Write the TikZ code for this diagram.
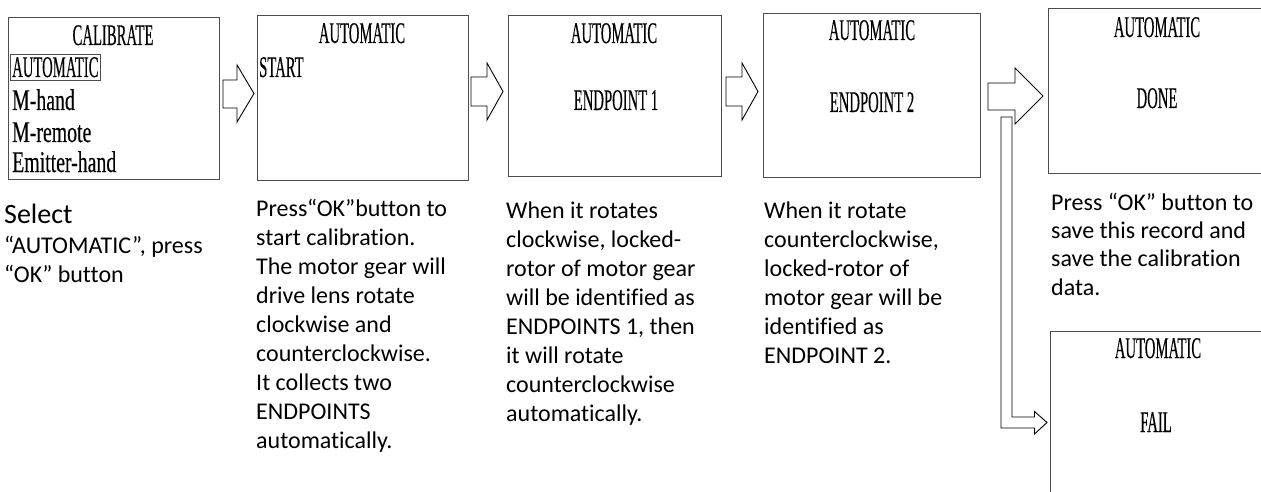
\documentclass[tikz,border=0pt]{standalone}
\usepackage{fontspec}
\setmainfont{Carlito}[Ligatures={NoCommon,NoContextual},RawFeature={-liga;-clig;-calt}]
\newfontfamily\scrcaps[FakeStretch=0.49,FakeBold=0.3]{Liberation Serif}
\newfontfamily\scrlow[FakeStretch=0.66,FakeBold=0.3]{Liberation Serif}
\newcommand\firstln{\rule{0pt}{18pt}}
\begin{document}
\begin{tikzpicture}[x=1pt,y=-1pt,
  screen/.style={draw=black!70,line width=0.8pt,inner sep=0pt,anchor=north west},
  scap/.style={inner sep=0pt,anchor=base,font=\scrcaps\fontsize{30}{32}\selectfont},
  slow/.style={inner sep=0pt,anchor=base west,font=\scrlow\fontsize{30}{32}\selectfont},
  desc/.style={inner sep=0pt,anchor=north west,align=left,font=\fontsize{24}{29}\selectfont},
  blockarrow/.style={draw=black,line width=0.9pt,fill=white,line join=miter}]
\useasboundingbox (0,0) rectangle (1261,492);
\clip (0,0) rectangle (1261,492);
% screens
\node[screen,minimum width=211pt,minimum height=162pt] (s1) at (8,17) {};
\node[screen,minimum width=211pt,minimum height=165pt] (s2) at (257,15) {};
\node[screen,minimum width=213pt,minimum height=161pt] (s3) at (508,15) {};
\node[screen,minimum width=217pt,minimum height=164pt] (s4) at (763,13) {};
\node[screen,minimum width=230pt,minimum height=165pt] (s5) at (1048,8) {};
\node[screen,minimum width=230pt,minimum height=180pt] (s6) at (1050,331) {};
% screen 1
\node[scap] (t1) at (113,45) {CALIBRATE};
\node[slow,font=\scrcaps\fontsize{30}{32}\selectfont] (m1) at (12,77) {AUTOMATIC};
\node[draw=black!70,line width=0.8pt,inner sep=0pt,minimum width=90pt,minimum height=26pt,anchor=north west] (hl) at (10,54) {};
\node[slow] (m2) at (12,110) {M-hand};
\node[slow] (m3) at (12,142) {M-remote};
\node[slow] (m4) at (12,172) {Emitter-hand};
% screen 2
\node[scap] (t2) at (362,43) {AUTOMATIC};
\node[slow,font=\scrcaps\fontsize{30}{32}\selectfont] (st) at (259,77) {START};
% screen 3
\node[scap] (t3) at (614,43) {AUTOMATIC};
\node[scap] (e1) at (616,110) {ENDPOINT 1};
% screen 4
\node[scap] (t4) at (872,40) {AUTOMATIC};
\node[scap] (e2) at (872,112) {ENDPOINT 2};
% screen 5
\node[scap] (t5) at (1157,37) {AUTOMATIC};
\node[scap] (dn) at (1157,108) {DONE};
% screen 6
\node[scap] (t6) at (1158,358) {AUTOMATIC};
\node[scap] (fl) at (1156,432) {FAIL};
% block arrows
\draw[blockarrow] (223,80) -- (237,80) -- (237,65) -- (254,93.5) -- (237,122) -- (237,108) -- (223,108) -- cycle;
\draw[blockarrow] (471,77) -- (487,77) -- (487,63) -- (503,91.5) -- (487,120) -- (487,106) -- (471,106) -- cycle;
\draw[blockarrow] (726,77) -- (742,77) -- (742,63) -- (758,91.5) -- (742,120) -- (742,106) -- (726,106) -- cycle;
\draw[blockarrow] (988,83) -- (1015,83) -- (1015,68) -- (1043,96) -- (1015,124) -- (1015,110) -- (988,110) -- cycle;
\draw[blockarrow] (1001,117) -- (1012,117) -- (1012,417) -- (1034.5,417) -- (1034.5,411.5) -- (1047,422.5) -- (1034.5,434) -- (1034.5,428) -- (1001,428) -- cycle;
% descriptions
\node[inner sep=0pt,anchor=base west,font=\fontsize{28}{30}\selectfont] (d1a) at (4,223) {Select};
\node[desc] (d1) at (4,253-18) {\firstln``AUTOMATIC'', press\\``OK'' button};
\node[desc] (d2) at (256,216-18) {\firstln Press``OK''button to\\start calibration.\\The motor gear will\\drive lens rotate\\clockwise and\\counterclockwise.\\It collects two\\ENDPOINTS\\automatically.};
\node[desc] (d3) at (506,218-18) {\firstln When it rotates\\clockwise, locked-\\rotor of motor gear\\will be identified as\\ENDPOINTS 1, then\\it will rotate\\counterclockwise\\automatically.};
\node[desc] (d4) at (764,218-18) {\firstln When it rotate\\counterclockwise,\\locked-rotor of\\motor gear will be\\identified as\\ENDPOINT 2.};
\node[desc,font=\fontsize{24}{28.3}\selectfont] (d5) at (1051,210-18) {\firstln Press ``OK'' button to\\save this record and\\save the calibration\\data.};
\end{tikzpicture}
\end{document}
